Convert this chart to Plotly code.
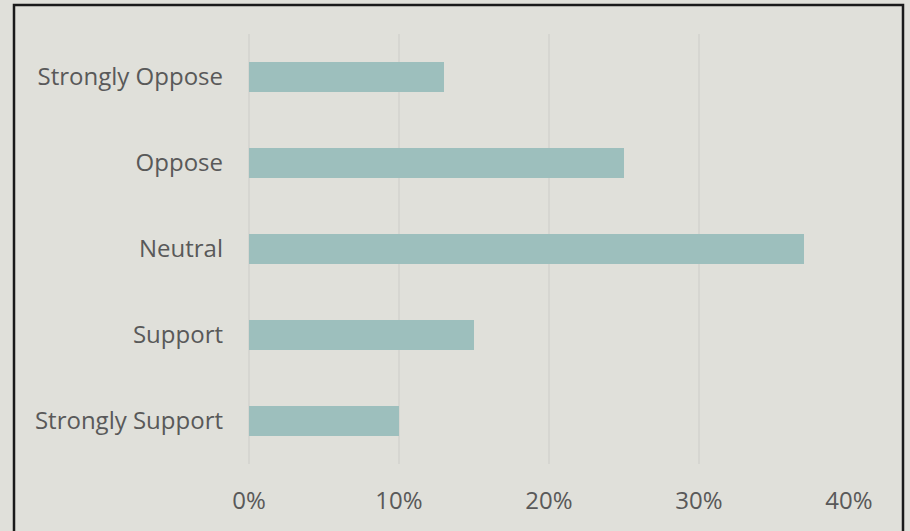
import plotly.graph_objects as go

categories = ["Strongly Oppose", "Oppose", "Neutral", "Support", "Strongly Support"]
shares = [0.13, 0.25, 0.37, 0.15, 0.10]

bg = "#E0E0DA"
bar_color = "#9DBFBD"
text_color = "#595959"
grid_color = "#D6D6D1"

fig = go.Figure()
fig.add_trace(go.Bar(
    x=shares,
    y=categories,
    orientation="h",
    marker=dict(color=bar_color, line=dict(width=0)),
    hoverinfo="skip",
))

fig.update_layout(
    width=910,
    height=531,
    autosize=False,
    margin=dict(l=249, r=61, t=34, b=67),
    paper_bgcolor=bg,
    plot_bgcolor=bg,
    showlegend=False,
    bargap=0.65,
    font=dict(family="Open Sans", size=24, color=text_color),
)

fig.update_xaxes(
    range=[0, 0.4],
    dtick=0.1,
    tickformat=".0%",
    showgrid=True,
    gridcolor=grid_color,
    gridwidth=1.5,
    zeroline=True,
    zerolinecolor=grid_color,
    zerolinewidth=1.5,
    showline=False,
    ticks="",
    ticklabelstandoff=20,
    fixedrange=True,
)
fig.update_yaxes(
    categoryorder="array",
    categoryarray=categories,
    autorange="reversed",
    showgrid=False,
    zeroline=False,
    showline=False,
    ticks="",
    ticklabelstandoff=25,
    fixedrange=True,
)

# outer frame around the chart
fig.add_shape(
    type="rect",
    xref="paper", yref="paper",
    x0=(14 - 249) / 600, x1=(903 - 249) / 600,
    y0=-0.2, y1=(464 - 5) / 430,
    line=dict(color="#1A1A1A", width=2.5),
    fillcolor="rgba(0,0,0,0)",
    layer="above",
)

fig.write_html(
    "out.html",
    config={"displayModeBar": False},
    post_script="document.body.style.margin='0';document.body.style.background='#E0E0DA';",
)
